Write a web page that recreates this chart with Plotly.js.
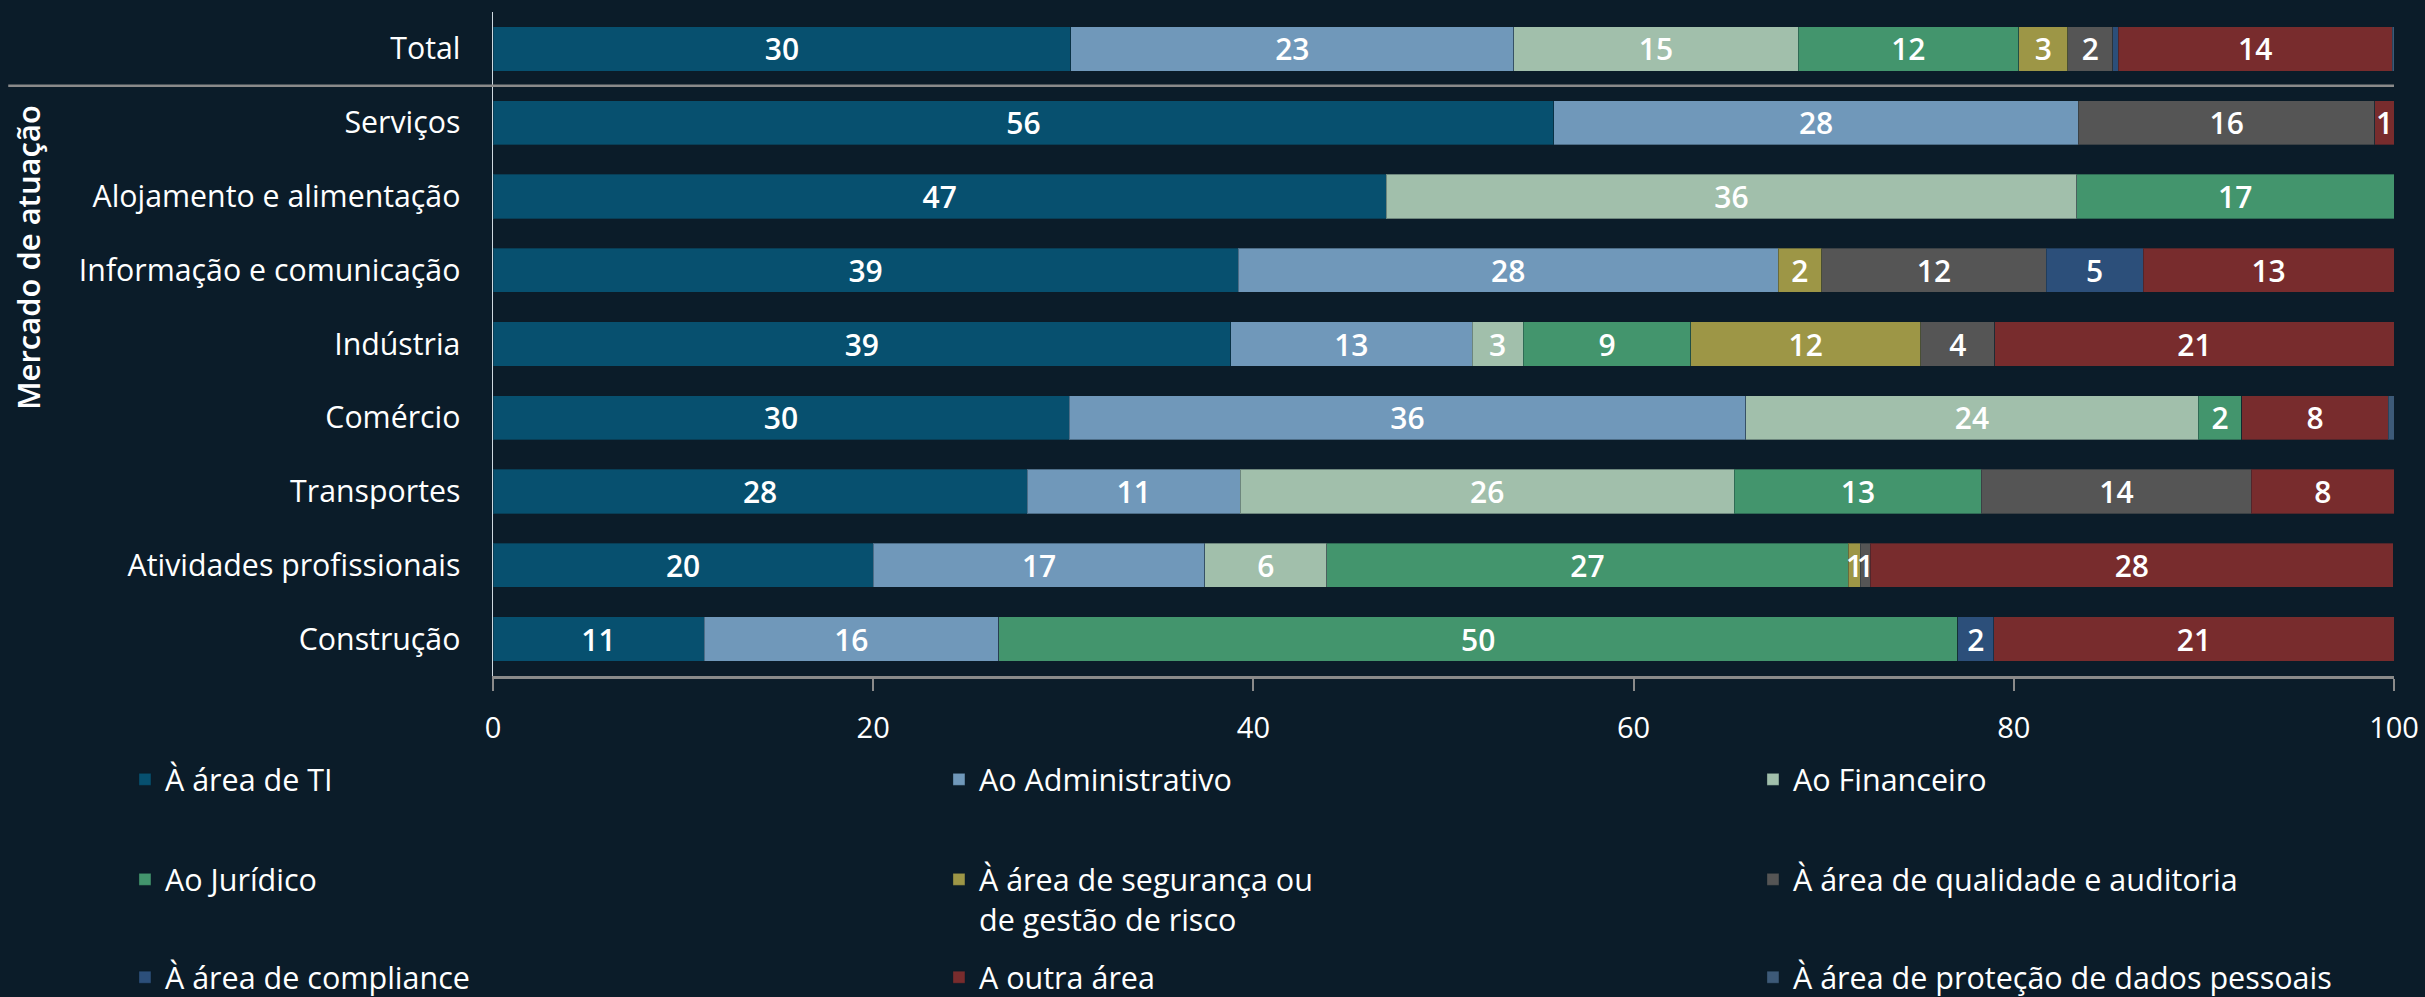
<!DOCTYPE html>
<html><head><meta charset="utf-8">
<script src="https://cdn.plot.ly/plotly-3.0.1.min.js"></script>
<style>html,body{margin:0;padding:0;background:#0B1C29;}</style>
</head><body>
<div id="chart" style="width:2425px;height:997px;"></div>
<script>
// Categories (top to bottom)
const categories = ['Total','Serviços','Alojamento e alimentação','Informação e comunicação','Indústria','Comércio','Transportes','Atividades profissionais','Construção'];

// Series names (legend)
const seriesNames = ['À área de TI','Ao Administrativo','Ao Financeiro','Ao Jurídico','À área de segurança ou<br>de gestão de risco','À área de qualidade e auditoria','À área de compliance','A outra área','À área de proteção de dados pessoais'];

// Series values (%), one value per category
const areaTI        = [30.4, 55.8, 47.0, 39.2, 38.8, 30.3, 28.1, 20.0, 11.1];
const administrativo= [23.3, 27.6, 0,    28.4, 12.7, 35.6, 11.2, 17.45, 15.5];
const financeiro    = [14.95, 0,   36.3, 0,    2.7,  23.8, 26.0, 6.4,  0];
const juridico      = [11.6, 0,    16.7, 0,    8.8,  2.3,  13.0, 27.45, 50.45];
const seguranca     = [2.6,  0,    0,    2.3,  12.1, 0,    0,    0.63, 0];
const qualidade     = [2.35, 15.6, 0,    11.8, 3.9,  0,    14.2, 0.53, 0];
const compliance    = [0.3,  0,    0,    5.1,  0,    0,    0,    0,    1.9];
const outraArea     = [14.4, 1.0,  0,    13.2, 21.0, 7.7,  7.5,  27.5, 21.05];
const protecaoDados = [0.1,  0,    0,    0,    0,    0.3,  0,    0,    0];

const xTicks = [0, 20, 40, 60, 80, 100];

const seriesValues = [areaTI, administrativo, financeiro, juridico, seguranca, qualidade, compliance, outraArea, protecaoDados];
const colors = ['#07506F','#7098BA','#A1BFAB','#43956D','#9D9646','#555555','#2C4F7A','#782C2D','#3D5A78'];
const legendIds = ['legend','legend','legend','legend2','legend2','legend2','legend3','legend3','legend3'];

const FONT = 'Open Sans, Noto Sans, sans-serif';
const traces = seriesValues.map((vals, i) => ({
  type: 'bar',
  orientation: 'h',
  name: seriesNames[i],
  y: categories,
  x: vals,
  text: vals.map(v => v >= 0.5 ? String(Math.round(v)) : ''),
  textposition: 'inside',
  insidetextanchor: 'middle',
  textangle: 0,
  textfont: {color: '#FFFFFF', size: 30, family: FONT, weight: 600},
  marker: {color: colors[i], line: {color: 'rgba(11,28,41,0.35)', width: 1}},
  legend: legendIds[i],
  legendwidth: (i % 3 === 2) ? 620 : undefined,
  hoverinfo: 'skip'
}));

const legendBase = {
  orientation: 'h', xanchor: 'left', yanchor: 'top', x: -0.1936,
  font: {color: '#FFFFFF', size: 30.5, family: FONT},
  bgcolor: 'rgba(0,0,0,0)', entrywidth: 769, entrywidthmode: 'pixels',
  valign: 'top', traceorder: 'normal', itemclick: false, itemdoubleclick: false
};

const layout = {
  width: 2425, height: 997,
  paper_bgcolor: '#0B1C29', plot_bgcolor: '#0B1C29',
  margin: {l: 493, r: 31, t: 12, b: 321, autoexpand: false},
  barmode: 'stack', bargap: 0.40,
  font: {family: FONT, color: '#FFFFFF', size: 29},
  uniformtext: {minsize: 30, mode: 'show'},
  xaxis: {
    range: [0, 100], tickvals: xTicks, ticktext: xTicks.map(String),
    showgrid: false, zeroline: false,
    showline: true, linecolor: '#8A8A8A', linewidth: 2.5,
    ticks: 'outside', ticklen: 12, tickwidth: 2, tickcolor: '#8A8A8A',
    ticklabelstandoff: 13,
    tickfont: {color: '#FFFFFF', size: 29, family: FONT}
  },
  yaxis: {
    type: 'category', categoryorder: 'array', categoryarray: categories,
    autorange: 'reversed', showgrid: false, zeroline: false,
    showline: true, linecolor: '#CFD9E0', linewidth: 1.5,
    ticks: '', ticklabelstandoff: 25,
    tickfont: {color: '#FFFFFF', size: 30.3, family: FONT}
  },
  legend: Object.assign({}, legendBase, {y: -0.116}),
  legend2: Object.assign({}, legendBase, {y: -0.2666}),
  legend3: Object.assign({}, legendBase, {y: -0.414}),
  shapes: [{
    type: 'line', xref: 'paper', yref: 'y', x0: -0.255, x1: 1, y0: 0.5, y1: 0.5,
    line: {color: '#8A8A8A', width: 2.5}
  }],
  annotations: [{
    text: 'Mercado de atuação', xref: 'paper', yref: 'paper',
    x: -0.2446, y: 0.6295, xanchor: 'center', yanchor: 'middle',
    textangle: -90, showarrow: false,
    font: {color: '#FFFFFF', size: 31, family: FONT, weight: 600}
  }]
};

Plotly.newPlot('chart', traces, layout, {staticPlot: true, displayModeBar: false});
</script>
</body></html>
